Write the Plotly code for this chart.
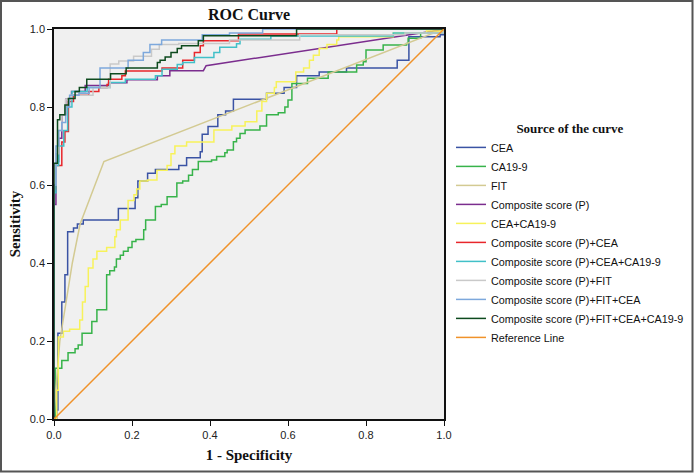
import plotly.graph_objects as go

# ---------------- data ----------------
names = [
    "CEA", "CA19-9", "FIT", "Composite score (P)", "CEA+CA19-9",
    "Composite score (P)+CEA", "Composite score (P)+CEA+CA19-9",
    "Composite score (P)+FIT", "Composite score (P)+FIT+CEA",
    "Composite score (P)+FIT+CEA+CA19-9", "Reference Line",
]
colors = [
    "#3A53A4", "#37B34A", "#D3CA92", "#7B2D8E", "#F7F25A",
    "#E8262B", "#41C0C8", "#C9C9C9", "#7DA8DC", "#0D4A1E", "#F0922A",
]

cea_x = [0, 0.007, 0.01, 0.02, 0.028, 0.035, 0.05, 0.06, 0.075, 0.165, 0.208, 0.215, 0.24, 0.26, 0.32,
         0.34, 0.375, 0.38, 0.395, 0.42, 0.44, 0.46, 0.545, 0.59, 0.622, 0.68, 0.75, 0.88, 0.91, 0.99, 1.0]
cea_y = [0, 0.023, 0.22, 0.30, 0.37, 0.48, 0.49, 0.50, 0.51, 0.54, 0.567, 0.61, 0.63, 0.64, 0.65,
         0.67, 0.685, 0.73, 0.75, 0.78, 0.79, 0.82, 0.835, 0.85, 0.88, 0.89, 0.90, 0.92, 0.98, 0.985, 1.0]

ca199_x = [0, 0.003, 0.02, 0.036, 0.054, 0.062, 0.072, 0.097, 0.11, 0.135, 0.143, 0.155, 0.16, 0.17, 0.178,
           0.19, 0.20, 0.21, 0.23, 0.235, 0.26, 0.275, 0.29, 0.315, 0.33, 0.345, 0.355, 0.37, 0.404, 0.417,
           0.438, 0.444, 0.46, 0.468, 0.477, 0.49, 0.528, 0.545, 0.575, 0.592, 0.60, 0.61, 0.65, 0.703,
           0.776, 0.793, 0.80, 0.844, 0.904, 0.908, 0.94, 1.0]
ca199_y = [0, 0.13, 0.15, 0.17, 0.18, 0.19, 0.22, 0.25, 0.28, 0.37, 0.38, 0.39, 0.41, 0.42, 0.43,
           0.44, 0.455, 0.46, 0.485, 0.51, 0.545, 0.55, 0.57, 0.605, 0.61, 0.625, 0.64, 0.66, 0.664, 0.673,
           0.683, 0.69, 0.711, 0.72, 0.732, 0.741, 0.751, 0.78, 0.785, 0.80, 0.818, 0.86, 0.874, 0.89,
           0.908, 0.916, 0.946, 0.959, 0.963, 0.976, 0.99, 1.0]

fit_x = [0, 0.005, 0.015, 0.047, 0.067, 0.11, 0.128, 1.0]
fit_y = [0, 0.08, 0.20, 0.40, 0.50, 0.61, 0.66, 1.0]

p_x = [0, 0, 0.005, 0.005, 0.012, 0.012, 0.02, 0.02, 0.03, 0.03, 0.045, 0.045, 0.08, 0.08, 0.14, 0.14,
       0.187, 0.187, 0.265, 0.265, 0.297, 0.297, 0.383, 0.39, 0.97, 1.0]
p_y = [0, 0.55, 0.55, 0.66, 0.66, 0.72, 0.72, 0.78, 0.78, 0.82, 0.82, 0.84, 0.84, 0.855, 0.855, 0.862,
       0.862, 0.87, 0.87, 0.88, 0.88, 0.893, 0.893, 0.906, 0.994, 1.0]

ceaca_x = [0, 0.007, 0.011, 0.024, 0.04, 0.062, 0.066, 0.073, 0.08, 0.088, 0.10, 0.11, 0.135, 0.156, 0.16,
           0.17, 0.19, 0.205, 0.212, 0.22, 0.24, 0.264, 0.29, 0.30, 0.31, 0.34, 0.41, 0.456, 0.49, 0.52,
           0.533, 0.545, 0.565, 0.57, 0.62, 0.64, 0.655, 0.665, 0.68, 0.70, 0.725, 0.73, 0.87, 0.955, 1.0]
ceaca_y = [0, 0.074, 0.21, 0.225, 0.23, 0.23, 0.254, 0.30, 0.34, 0.387, 0.41, 0.43, 0.44, 0.467, 0.485,
           0.51, 0.56, 0.575, 0.59, 0.61, 0.613, 0.638, 0.65, 0.68, 0.70, 0.71, 0.741, 0.751, 0.762, 0.79,
           0.814, 0.835, 0.85, 0.865, 0.89, 0.90, 0.92, 0.933, 0.95, 0.96, 0.972, 0.98, 0.99, 0.995, 1.0]

pcea_x = [0, 0, 0.005, 0.02, 0.028, 0.037, 0.05, 0.089, 0.115, 0.136, 0.14, 0.174, 0.183, 0.277, 0.33,
          0.36, 0.375, 0.383, 0.473, 0.725, 1.0]
pcea_y = [0, 0.59, 0.65, 0.71, 0.737, 0.814, 0.83, 0.84, 0.85, 0.858, 0.871, 0.88, 0.892, 0.90, 0.92,
          0.94, 0.957, 0.97, 0.987, 1.0, 1.0]

pceaca_x = [0, 0, 0.005, 0.012, 0.025, 0.035, 0.046, 0.085, 0.144, 0.183, 0.26, 0.277, 0.316, 0.33, 0.36,
            0.41, 0.425, 0.468, 0.477, 0.556, 0.87, 1.0]
pceaca_y = [0, 0.58, 0.65, 0.70, 0.74, 0.80, 0.84, 0.85, 0.863, 0.871, 0.88, 0.897, 0.909, 0.914, 0.927,
            0.94, 0.953, 0.962, 0.974, 0.982, 0.99, 1.0]

pfit_x = [0, 0, 0.005, 0.012, 0.02, 0.03, 0.045, 0.10, 0.144, 0.166, 0.204, 0.25, 0.27, 0.32, 0.45, 0.63,
          0.9, 1.0]
pfit_y = [0, 0.60, 0.68, 0.74, 0.78, 0.82, 0.83, 0.85, 0.91, 0.918, 0.93, 0.948, 0.96, 0.963, 0.972,
          0.985, 0.99, 1.0]

pfitcea_x = [0, 0, 0.005, 0.012, 0.02, 0.03, 0.04, 0.064, 0.09, 0.118, 0.19, 0.229, 0.246, 0.276, 0.38,
             0.45, 0.535, 1.0]
pfitcea_y = [0, 0.60, 0.70, 0.74, 0.76, 0.80, 0.83, 0.835, 0.85, 0.90, 0.92, 0.94, 0.96, 0.972, 0.985,
             0.99, 1.0, 1.0]

pall_x = [0, 0, 0.009, 0.015, 0.028, 0.037, 0.054, 0.065, 0.084, 0.145, 0.185, 0.265, 0.272, 0.285, 0.30,
          0.316, 0.327, 0.37, 0.383, 0.622, 1.0]
pall_y = [0, 0.656, 0.767, 0.78, 0.805, 0.822, 0.84, 0.85, 0.871, 0.885, 0.90, 0.914, 0.92, 0.928, 0.94,
          0.95, 0.957, 0.97, 0.983, 1.0, 1.0]

ref_x = [0, 1]
ref_y = [0, 1]

tick_vals = [0.0, 0.2, 0.4, 0.6, 0.8, 1.0]

series = [
    (cea_x, cea_y, "hv"), (ca199_x, ca199_y, "hv"), (fit_x, fit_y, "linear"), (p_x, p_y, "linear"),
    (ceaca_x, ceaca_y, "hv"), (pcea_x, pcea_y, "hv"), (pceaca_x, pceaca_y, "hv"), (pfit_x, pfit_y, "hv"),
    (pfitcea_x, pfitcea_y, "hv"), (pall_x, pall_y, "hv"), (ref_x, ref_y, "linear"),
]

# ---------------- figure ----------------
fig = go.Figure()
for (xs, ys, shp), nm, col in zip(series, names, colors):
    fig.add_trace(go.Scatter(x=xs, y=ys, mode="lines", name=nm,
                             line=dict(color=col, width=1.5, shape=shp)))

serif = "Liberation Serif"
sans = "Liberation Sans"

axis_common = dict(
    range=[0, 1], tickvals=tick_vals, tickformat=".1f", ticks="outside", ticklen=5,
    tickcolor="#111", tickwidth=1, showline=True, linecolor="#111", linewidth=1.5, mirror=True,
    showgrid=False, zeroline=False, automargin=False,
    tickfont=dict(family=sans, size=11, color="#222"),
)

W, H = 694, 473
fig.update_layout(
    width=W, height=H, autosize=False,
    margin=dict(l=54, r=250, t=29, b=54, pad=0),
    paper_bgcolor="white", plot_bgcolor="#F0F0F0",
    title=dict(text="<b>ROC Curve</b>", font=dict(family=serif, size=16, color="#111"),
               x=0.5, xref="paper", xanchor="center", y=1 - 14 / H, yref="container", yanchor="middle"),
    xaxis=dict(**axis_common, title=dict(text="<b>1 - Specificity</b>", standoff=10,
                                          font=dict(family=serif, size=15, color="#111"))),
    yaxis=dict(**axis_common, title=dict(text="<b>Sensitivity</b>", standoff=6,
                                          font=dict(family=serif, size=15, color="#111"))),
    legend=dict(
        title=dict(text="<b>Source of the curve</b>", side="top center",
                   font=dict(family=serif, size=13, color="#111")),
        font=dict(family=sans, size=10.8, color="#111"),
        xref="container", yref="container",
        x=451 / W, xanchor="left", y=1 - 116 / H, yanchor="top", bgcolor="rgba(0,0,0,0)",
        tracegroupgap=0,
    ),
    showlegend=True,
)

# outer picture frame
fig.add_shape(type="rect", xref="paper", yref="paper",
              x0=(1 - 54) / 390, x1=(692.5 - 54) / 390, y0=(419 - 471.5) / 390, y1=(419 - 1) / 390,
              line=dict(color="#555", width=2), fillcolor="rgba(0,0,0,0)", layer="above")

fig.write_html("out.html", config={"displayModeBar": False},
               post_script="document.body.style.margin='0px';document.body.style.padding='0px';")
